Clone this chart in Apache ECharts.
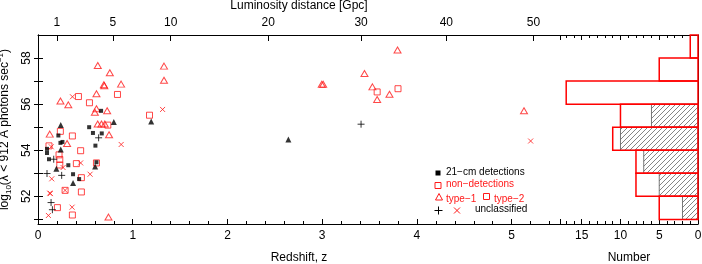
<!DOCTYPE html>
<html><head><meta charset="utf-8">
<script src="https://cdn.jsdelivr.net/npm/echarts@6/dist/echarts.min.js"></script>
<style>html,body{margin:0;padding:0;background:#fff}#c{width:702px;height:264px}</style>
</head><body><div id="c"></div>
<script>
// ---- data (redshift z, log10 ionising photon rate) ----
const type2Det = [[0.666,55.71],[0.54,55.0],[0.58,54.75],[0.673,54.73],[0.215,54.64],[0.606,54.2],[0.237,54.32],[0.258,54.36],[0.095,54.06],[0.095,53.88],[0.116,53.61],[0.32,53.35],[0.617,53.48],[0.37,52.96],[0.434,52.75]];
const type1Det = [[0.24,55.1],[0.80,55.23],[1.195,55.25],[2.643,54.47],[0.24,54.03],[0.603,53.3],[0.194,53.2],[0.37,52.58]];
const unclDet = [[0.64,54.54],[0.166,53.61],[0.095,52.99],[0.25,52.91],[0.138,51.73],[0.152,51.42],[3.41,55.13]];
const type1Non = [[0.695,56.84],[0.70,56.80],[0.877,56.87],[1.33,57.04],[0.631,57.68],[0.758,57.36],[1.33,57.65],[0.617,56.45],[0.237,56.14],[0.32,55.97],[0.617,55.8],[0.60,55.65],[0.73,55.71],[0.63,55.14],[0.67,55.14],[0.705,55.14],[0.75,54.67],[0.124,54.7],[0.307,54.29],[0.744,51.1],[2.995,56.86],[3.01,56.86],[3.795,58.35],[3.446,57.33],[3.53,56.75],[3.58,56.2],[3.71,56.43],[5.13,55.71]];
const type2Non = [[0.427,56.33],[0.543,56.06],[0.839,56.42],[1.177,55.52],[0.737,55.09],[0.236,54.82],[0.363,54.62],[0.116,54.19],[0.45,53.98],[0.222,53.8],[0.23,53.6],[0.23,53.36],[0.405,53.42],[0.617,53.45],[0.458,52.81],[0.458,52.19],[0.286,52.26],[0.205,51.51],[0.363,51.19],[3.58,56.53],[3.80,56.67]];
const unclNon = [[0.364,56.32],[1.315,55.77],[0.878,54.25],[0.14,54.15],[0.45,53.45],[0.265,53.25],[0.55,52.96],[0.145,52.76],[0.286,52.26],[0.124,52.14],[0.13,52.12],[0.36,51.53],[0.11,51.17],[5.20,54.4]];
// histogram bins
const binLow = [51,52,53,54,55,56,57,58];
const binHigh = [52,53,54,55,56,57,58,59];
const histNon = [5,8,8,11,10,17,5,1];
const histDet = [2,5,7,10,6,0,0,0];
// axis ticks
const yTicks = [51,52,53,54,55,56,57,58];
const yLabels = [52,54,56,58];
const dlLabels = [1,5,10,20,30,40,50];
const dlZ = [0.2,0.79,1.4,2.43,3.41,4.31,5.23];

const RED = '#ff1a1a';
const FONT = 'Liberation Sans';
const chart = echarts.init(document.getElementById('c'), null, {renderer:'canvas'});

// hatch pattern
const pc = document.createElement('canvas');
pc.width = 5; pc.height = 5;
const g = pc.getContext('2d');
g.strokeStyle = '#666'; g.lineWidth = 0.8;
g.beginPath(); g.moveTo(0,5); g.lineTo(5,0); g.moveTo(-1,1); g.lineTo(1,-1); g.moveTo(4,6); g.lineTo(6,4); g.stroke();

function rectRender(style){
  return function(params, api){
    const c = api.value(0);
    if (!c) return null;
    const p0 = api.coord([0, api.value(1)]);
    const p1 = api.coord([c, api.value(2)]);
    return {type:'rect', shape:{x:Math.min(p0[0],p1[0]), y:Math.min(p0[1],p1[1]), width:Math.abs(p1[0]-p0[0]), height:Math.abs(p1[1]-p0[1])}, style: style};
  };
}

const plusPath = 'path://M0,5L10,5M5,0L5,10';
const crossPath = 'path://M0,0L10,10M10,0L0,10';
const lbl = {fontFamily:FONT, fontSize:12, color:'#000'};
const axLine = {show:true, lineStyle:{color:'#000', width:1}};

const option = {
  animation:false,
  backgroundColor:'#fff',
  grid:[
    {left:38, top:35, width:522, height:189, containLabel:false, outerBoundsMode:'none'},
    {left:560, top:35, width:138, height:189, containLabel:false, outerBoundsMode:'none'}
  ],
  xAxis:[
    {gridIndex:0, type:'value', min:0, max:5.51, interval:1, position:'bottom',
     axisLine:axLine, splitLine:{show:false},
     axisTick:{show:true, inside:true, length:5, lineStyle:{color:'#000'}},
     minorTick:{show:true, splitNumber:5, length:3, lineStyle:{color:'#000'}},
     axisLabel:Object.assign({margin:6, showMaxLabel:false}, lbl),
     name:'Redshift, z', nameLocation:'middle', nameGap:28, nameTextStyle:lbl},
    {gridIndex:0, type:'value', min:0, max:5.51, position:'top',
     axisLine:axLine, splitLine:{show:false},
     axisTick:{show:true, inside:true, length:6, customValues:dlZ, lineStyle:{color:'#000'}},
     axisLabel:Object.assign({margin:6, customValues:dlZ, formatter:function(v){
        let best=0; for(let i=0;i<dlZ.length;i++){ if(Math.abs(dlZ[i]-v)<Math.abs(dlZ[best]-v)) best=i; }
        return String(dlLabels[best]); }}, lbl),
     name:'Luminosity distance [Gpc]', nameLocation:'middle', nameGap:22, nameTextStyle:lbl},
    {gridIndex:1, type:'value', min:0, max:17.8, interval:5, inverse:true, position:'bottom',
     axisLine:axLine, splitLine:{show:false},
     axisTick:{show:true, inside:true, length:5, lineStyle:{color:'#000'}},
     minorTick:{show:true, splitNumber:5, length:3, lineStyle:{color:'#000'}},
     axisLabel:Object.assign({margin:6, showMaxLabel:false}, lbl),
     name:'Number', nameLocation:'middle', nameGap:28, nameTextStyle:lbl},
    {gridIndex:1, type:'value', min:0, max:17.8, interval:5, inverse:true, position:'top',
     axisLine:axLine, splitLine:{show:false},
     axisTick:{show:true, inside:true, length:5, lineStyle:{color:'#000'}},
     minorTick:{show:true, splitNumber:5, length:3, lineStyle:{color:'#000'}},
     axisLabel:{show:false}}
  ],
  yAxis:[
    {gridIndex:0, type:'value', min:50.8, max:59, position:'left',
     axisLine:axLine, splitLine:{show:false},
     axisTick:{show:true, inside:true, length:5, customValues:yTicks, lineStyle:{color:'#000'}},
     axisLabel:Object.assign({rotate:90, margin:5, customValues:yLabels}, lbl),
     name:'log{sub|10}(λ < 912 Å photons sec{sup|−1})', nameLocation:'middle', nameGap:22, nameRotate:90,
     nameTextStyle:{fontFamily:FONT, fontSize:12, color:'#000', lineHeight:16,
       rich:{sub:{fontFamily:FONT, fontSize:8, verticalAlign:'bottom', lineHeight:16, padding:[6,0,0,0]},
             sup:{fontFamily:FONT, fontSize:8, verticalAlign:'top', lineHeight:16, padding:[0,0,6,0]}}}},
    {gridIndex:0, type:'value', min:50.8, max:59, position:'right',
     axisLine:axLine, splitLine:{show:false},
     axisTick:{show:true, inside:true, length:4, customValues:yTicks, lineStyle:{color:'#000'}},
     axisLabel:{show:false}},
    {gridIndex:1, type:'value', min:50.8, max:59, position:'left',
     axisLine:{show:false}, splitLine:{show:false}, axisTick:{show:false}, axisLabel:{show:false}},
    {gridIndex:1, type:'value', min:50.8, max:59, position:'right',
     axisLine:axLine, splitLine:{show:false}, axisTick:{show:false}, axisLabel:{show:false}}
  ],
  series:[
    {type:'scatter', xAxisIndex:0, yAxisIndex:0, data:type1Non, symbol:'triangle', symbolSize:[7,6],
     itemStyle:{color:'rgba(0,0,0,0)', borderColor:RED, borderWidth:1}},
    {type:'scatter', xAxisIndex:0, yAxisIndex:0, data:type2Non, symbol:'rect', symbolSize:6,
     itemStyle:{color:'rgba(0,0,0,0)', borderColor:RED, borderWidth:1}},
    {type:'scatter', xAxisIndex:0, yAxisIndex:0, data:unclNon, symbol:crossPath, symbolSize:5,
     itemStyle:{color:'none', borderColor:RED, borderWidth:1}},
    {type:'scatter', xAxisIndex:0, yAxisIndex:0, data:type2Det, symbol:'rect', symbolSize:4,
     itemStyle:{color:'#000'}},
    {type:'scatter', xAxisIndex:0, yAxisIndex:0, data:type1Det, symbol:'triangle', symbolSize:[6,6],
     itemStyle:{color:'#000'}},
    {type:'scatter', xAxisIndex:0, yAxisIndex:0, data:unclDet, symbol:plusPath, symbolSize:7,
     itemStyle:{color:'none', borderColor:'#000', borderWidth:1}},
    {type:'custom', xAxisIndex:2, yAxisIndex:2, encode:{x:0, y:[1,2]},
     data:histDet.map((v,i)=>[v, binLow[i], binHigh[i]]),
     renderItem:rectRender({fill:{image:pc, repeat:'repeat'}, stroke:'#555', lineWidth:0.8}), z:3},
    {type:'custom', xAxisIndex:2, yAxisIndex:2, encode:{x:0, y:[1,2]},
     data:histNon.map((v,i)=>[v, binLow[i], binHigh[i]]),
     renderItem:rectRender({fill:null, stroke:'#ff0000', lineWidth:1.5}), z:4}
  ],
  graphic:[
    {type:'rect', shape:{x:435.5, y:170.5, width:5, height:5}, style:{fill:'#000'}},
    {type:'text', left:446, top:167, style:{text:'21−cm detections', fontFamily:FONT, fontSize:10, fill:'#000'}},
    {type:'rect', shape:{x:435, y:182.5, width:6, height:6}, style:{fill:'none', stroke:RED, lineWidth:1}},
    {type:'text', left:446, top:179, style:{text:'non−detections', fontFamily:FONT, fontSize:10, fill:RED}},
    {type:'polygon', shape:{points:[[435.5,200],[442.5,200],[439,193.5]]}, style:{fill:'none', stroke:RED, lineWidth:1}},
    {type:'text', left:446, top:194, style:{text:'type−1', fontFamily:FONT, fontSize:10, fill:RED}},
    {type:'rect', shape:{x:483.5, y:193.5, width:6, height:6}, style:{fill:'none', stroke:RED, lineWidth:1}},
    {type:'text', left:494, top:194, style:{text:'type−2', fontFamily:FONT, fontSize:10, fill:RED}},
    {type:'polyline', shape:{points:[[434.5,210.5],[442.5,210.5]]}, style:{stroke:'#000', lineWidth:1}},
    {type:'polyline', shape:{points:[[438.5,206.5],[438.5,214.5]]}, style:{stroke:'#000', lineWidth:1}},
    {type:'polyline', shape:{points:[[454,207.5],[460,213.5]]}, style:{stroke:RED, lineWidth:1}},
    {type:'polyline', shape:{points:[[460,207.5],[454,213.5]]}, style:{stroke:RED, lineWidth:1}},
    {type:'text', left:475, top:204, style:{text:'unclassified', fontFamily:FONT, fontSize:10, fill:'#000'}}
  ]
};
chart.setOption(option);
</script></body></html>
